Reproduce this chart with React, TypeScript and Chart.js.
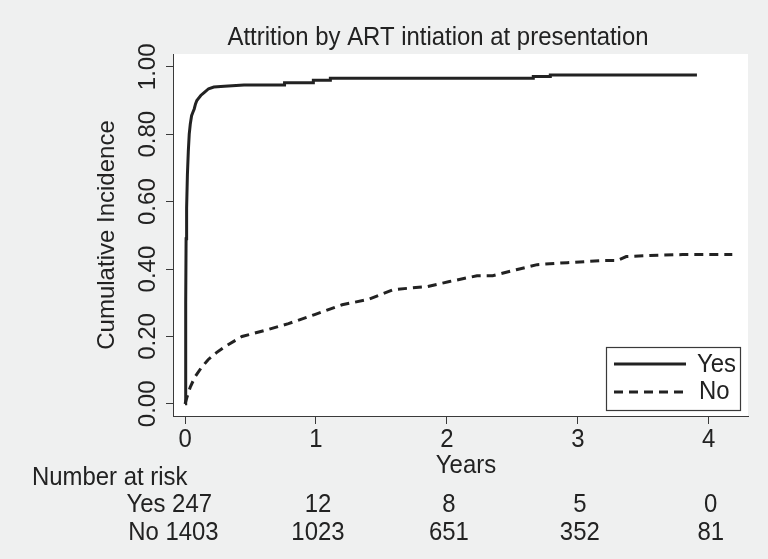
import React, { useEffect, useRef } from "react";
import { Chart, registerables } from "chart.js";

Chart.register(...registerables);

const chartTitle = "Attrition by ART intiation at presentation";
const yAxisTitle = "Cumulative Incidence";
const xAxisTitle = "Years";
const riskTitle = "Number at risk";
const seriesLabels = ["Yes", "No"];

const xTicks = [0, 1, 2, 3, 4];
const yTicks = [0, 0.2, 0.4, 0.6, 0.8, 1.0];

const yesX = [0, 0.004, 0.006, 0.008, 0.012, 0.018, 0.025, 0.032, 0.04, 0.05, 0.06, 0.07, 0.08, 0.09, 0.1, 0.12, 0.15, 0.18, 0.22, 0.3, 0.45, 0.76, 0.76, 0.98, 0.98, 1.11, 1.11, 2.66, 2.66, 2.79, 2.79, 3.91];
const yesY = [0, 0.02, 0.3, 0.49, 0.58, 0.68, 0.75, 0.8, 0.83, 0.855, 0.865, 0.875, 0.89, 0.9, 0.905, 0.915, 0.925, 0.935, 0.94, 0.942, 0.946, 0.946, 0.953, 0.953, 0.96, 0.96, 0.966, 0.966, 0.971, 0.971, 0.976, 0.976];

const noX = [0, 0.015, 0.04, 0.076, 0.12, 0.176, 0.24, 0.305, 0.435, 0.63, 0.79, 0.99, 1.2, 1.4, 1.59, 1.85, 2.02, 2.23, 2.35, 2.53, 2.69, 2.92, 3.19, 3.3, 3.37, 3.55, 3.8, 4.18];
const noY = [0, 0.02, 0.05, 0.08, 0.105, 0.131, 0.152, 0.17, 0.2, 0.22, 0.238, 0.265, 0.294, 0.31, 0.339, 0.348, 0.363, 0.38, 0.38, 0.398, 0.413, 0.419, 0.425, 0.425, 0.437, 0.44, 0.443, 0.443];

const riskYes = [247, 12, 8, 5, 0];
const riskNo = [1403, 1023, 651, 352, 81];

const FONT = "'Liberation Sans', Arial, sans-serif";
const BG = "#eff0f0";
const INK = "#222222";
const AXIS = "#3a3a3a";
const DASH = [9, 6];
const HFONT = `26px ${FONT}`;
const HSCALE = 0.92;

function htext(ctx: CanvasRenderingContext2D, s: string, x: number, y: number, align: CanvasTextAlign) {
  ctx.save();
  ctx.font = HFONT;
  ctx.translate(x, y);
  ctx.scale(HSCALE, 1);
  ctx.textAlign = align;
  ctx.textBaseline = "middle";
  ctx.fillText(s, 0, 0);
  ctx.restore();
}

function hwidth(ctx: CanvasRenderingContext2D, s: string) {
  ctx.save();
  ctx.font = HFONT;
  const w = ctx.measureText(s).width * HSCALE;
  ctx.restore();
  return w;
}

const decor = {
  id: "decor",
  beforeDraw(chart: any) {
    const { ctx, chartArea: a } = chart;
    ctx.save();
    ctx.fillStyle = "#ffffff";
    ctx.fillRect(a.left, a.top, a.right - a.left, a.bottom - a.top);
    ctx.restore();
  },
  afterDraw(chart: any) {
    const { ctx, chartArea: a, scales } = chart;
    const xs = scales.x;
    const ys = scales.y;
    ctx.save();
    ctx.fillStyle = INK;
    ctx.font = `24px ${FONT}`;
    ctx.textBaseline = "middle";

    // title
    htext(ctx, chartTitle, 438, 38, "center");

    // y tick labels (rotated)
    yTicks.forEach((v) => {
      const py = ys.getPixelForValue(v);
      ctx.save();
      ctx.translate(148, py);
      ctx.rotate(-Math.PI / 2);
      ctx.textAlign = "center";
      ctx.fillText(v.toFixed(2), 0, 0);
      ctx.restore();
    });

    // y title
    ctx.save();
    ctx.translate(107, (a.top + a.bottom) / 2);
    ctx.rotate(-Math.PI / 2);
    ctx.textAlign = "center";
    ctx.fillText(yAxisTitle, 0, 0);
    ctx.restore();

    // x tick labels
    xTicks.forEach((v) => {
      htext(ctx, String(v), xs.getPixelForValue(v), 440, "center");
    });

    // x title
    htext(ctx, xAxisTitle, 466, 466, "center");

    // number at risk
    htext(ctx, riskTitle, 32, 478, "left");
    const rows = [
      { label: seriesLabels[0], vals: riskYes, y: 505 },
      { label: seriesLabels[1], vals: riskNo, y: 533 },
    ];
    const space = hwidth(ctx, " ");
    rows.forEach((r) => {
      r.vals.forEach((v, i) => {
        const cx = xs.getPixelForValue(xTicks[i]) + (i === 0 ? 7 : 2);
        const s = String(v);
        htext(ctx, s, cx, r.y, "center");
        if (i === 0) {
          const w = hwidth(ctx, s);
          htext(ctx, r.label, cx - w / 2 - space, r.y, "right");
        }
      });
    });

    // legend
    const lx = 606, ly = 347, lw = 134, lh = 63;
    ctx.fillStyle = "#ffffff";
    ctx.fillRect(lx, ly, lw, lh);
    ctx.strokeStyle = AXIS;
    ctx.lineWidth = 1.2;
    ctx.strokeRect(lx + 0.5, ly + 0.5, lw, lh);
    ctx.strokeStyle = INK;
    ctx.lineWidth = 3;
    ctx.beginPath();
    ctx.moveTo(614, 364);
    ctx.lineTo(686, 364);
    ctx.stroke();
    ctx.setLineDash(DASH);
    ctx.beginPath();
    ctx.moveTo(614, 392);
    ctx.lineTo(686, 392);
    ctx.stroke();
    ctx.setLineDash([]);
    ctx.fillStyle = INK;
    htext(ctx, seriesLabels[0], 697, 365, "left");
    htext(ctx, seriesLabels[1], 699, 392, "left");
    ctx.restore();
  },
};

export default function App() {
  const ref = useRef<HTMLCanvasElement | null>(null);
  useEffect(() => {
    document.body.style.margin = "0";
    document.body.style.background = BG;
    const canvas = ref.current;
    if (!canvas) return;
    const chart = new Chart(canvas, {
      type: "line",
      data: {
        datasets: [
          {
            label: seriesLabels[0],
            data: yesX.map((x, i) => ({ x, y: yesY[i] })),
            borderColor: INK,
            borderWidth: 3,
            pointRadius: 0,
            tension: 0,
            fill: false,
          },
          {
            label: seriesLabels[1],
            data: noX.map((x, i) => ({ x, y: noY[i] })),
            borderColor: INK,
            borderWidth: 3,
            borderDash: DASH,
            pointRadius: 0,
            tension: 0,
            fill: false,
          },
        ],
      },
      options: {
        responsive: false,
        animation: false,
        layout: { padding: { top: 54, right: 20, left: 0, bottom: 0 } },
        plugins: { legend: { display: false }, title: { display: false }, tooltip: { enabled: false } },
        scales: {
          x: {
            type: "linear",
            min: -0.092,
            max: 4.3,
            afterBuildTicks: (s: any) => {
              s.ticks = xTicks.map((v) => ({ value: v }));
            },
            afterFit: (s: any) => {
              s.height = 143;
            },
            ticks: { display: false },
            grid: { display: true, drawOnChartArea: false, drawTicks: true, tickLength: 8, color: AXIS, lineWidth: 1 },
            border: { display: true, color: AXIS, width: 1 },
          },
          y: {
            type: "linear",
            min: -0.036,
            max: 1.038,
            afterBuildTicks: (s: any) => {
              s.ticks = yTicks.map((v) => ({ value: v }));
            },
            afterFit: (s: any) => {
              s.width = 173;
            },
            ticks: { display: false },
            grid: { display: true, drawOnChartArea: false, drawTicks: true, tickLength: 7, color: AXIS, lineWidth: 1 },
            border: { display: true, color: AXIS, width: 1 },
          },
        },
      },
      plugins: [decor],
    } as any);
    return () => chart.destroy();
  }, []);
  return (
    <div style={{ width: 768, height: 559, background: BG }}>
      <canvas ref={ref} width={768} height={559} style={{ display: "block" }} />
    </div>
  );
}
